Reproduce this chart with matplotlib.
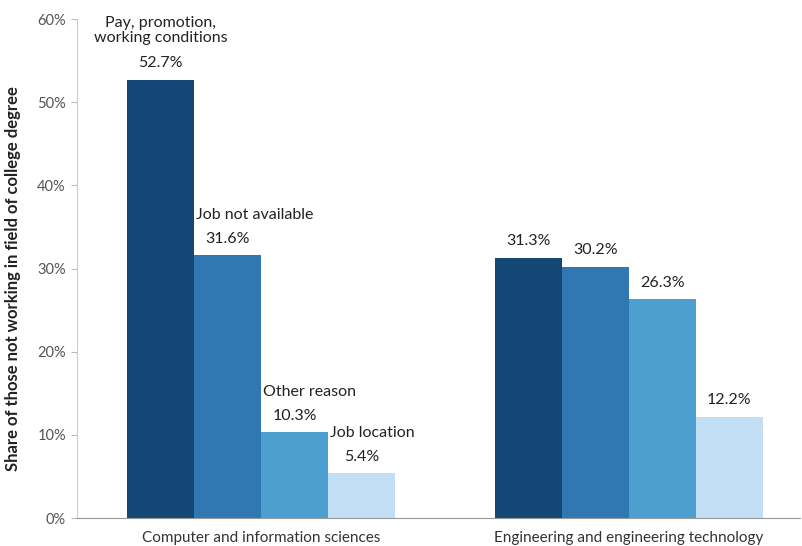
import matplotlib.pyplot as plt
import numpy as np

plt.rcParams['font.family'] = ['Lato', 'DejaVu Sans']

groups = ["Computer and information sciences", "Engineering and engineering technology"]
reasons = ["Pay, promotion,\nworking conditions", "Job not available", "Other reason", "Job location"]
values = [
    [52.7, 31.6, 10.3, 5.4],
    [31.3, 30.2, 26.3, 12.2],
]
colors = ["#134776", "#3177b1", "#4d9fcf", "#c1def4"]
yticks = [0, 10, 20, 30, 40, 50, 60]

fig = plt.figure(figsize=(8.02, 5.46), dpi=100)
ax = fig.add_axes([0.096, 0.051, 0.901, 0.914])

width = 0.182
x = np.arange(len(groups))
for i in range(len(reasons)):
    pos = x + (i - 1.5) * width
    vals = [v[i] for v in values]
    ax.bar(pos, vals, width, color=colors[i], edgecolor="none")
    for g in range(len(groups)):
        ax.annotate(f"{vals[g]:.1f}%", (pos[g], vals[g]), xytext=(0, 7),
                    textcoords="offset points", ha="center", va="bottom",
                    fontsize=11.5, color="#222222")

# category labels only on the first group
for i, name in enumerate(reasons):
    pos = x[0] + (i - 1.5) * width
    v = values[0][i]
    if i == 0:
        ax.annotate(name, (pos, v), xytext=(0, 25), textcoords="offset points",
                    ha="center", va="bottom", fontsize=11.5, color="#222222",
                    linespacing=1.1)
    else:
        ax.annotate(name, (pos - width / 2, v), xytext=(1, 24), textcoords="offset points",
                    ha="left", va="bottom", fontsize=11.5, color="#222222")

ax.set_xlim(-0.501, 1.464)
ax.set_ylim(0, 60)
ax.set_yticks(yticks)
ax.set_yticklabels([f"{t}%" for t in yticks], color="#555555", fontsize=10.5)
ax.set_xticks(x)
ax.set_xticklabels(groups, fontsize=11, color="#333333")
ax.tick_params(axis="x", length=0, pad=9)
ax.tick_params(axis="y", length=4, color="#bbbbbb", pad=4)
ax.set_ylabel("Share of those not working in field of college degree",
              fontsize=12, fontweight="bold", color="#222222", labelpad=8)
ax.yaxis.set_label_coords(-0.077, 0.48)

for s in ["top", "right"]:
    ax.spines[s].set_visible(False)
ax.spines["left"].set_color("#cccccc")
ax.spines["bottom"].set_color("#999999")

fig.savefig("out.png", dpi=100)
